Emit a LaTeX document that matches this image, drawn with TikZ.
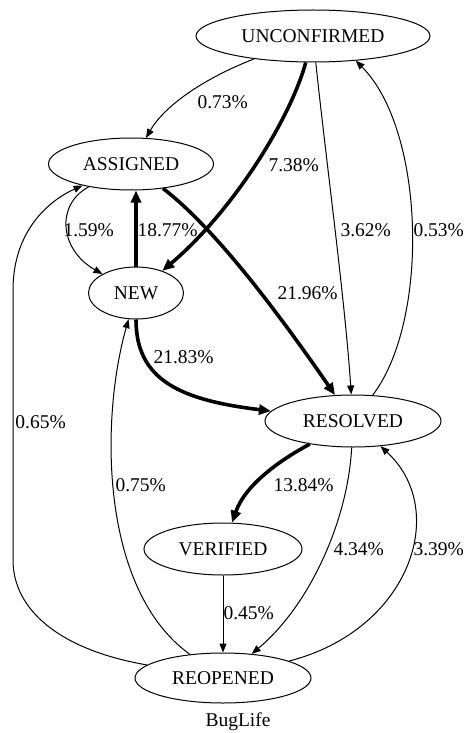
\documentclass[tikz,border=0pt]{standalone}
\usepackage{fontspec}
\setmainfont{Liberation Serif}
\usetikzlibrary{shapes.geometric, arrows.meta}

\begin{document}
\begin{tikzpicture}[x=1pt, y=-1pt, line width=1pt,
    >={Triangle[length=9pt, width=7pt]},
    statenode/.style={ellipse, draw, inner sep=0pt, minimum height=52pt,
      font=\fontsize{19.5}{22}\selectfont},
    edgelabel/.style={anchor=west, inner sep=0pt,
      font=\fontsize{19.5}{22}\selectfont},
    heavy/.style={line width=3.6pt, >={Triangle[length=12pt, width=10pt]}}]
    \useasboundingbox (0,0) rectangle (464,733);
    % states
    \node[statenode, minimum width=234pt] (unconfirmed) at (313,36) {UNCONFIRMED};
    \node[statenode, minimum width=165pt] (assigned) at (131,164) {ASSIGNED};
    \node[statenode, minimum width=95pt] (new) at (136,293) {NEW};
    \node[statenode, minimum width=176pt] (resolved) at (353,421) {RESOLVED};
    \node[statenode, minimum width=158pt] (verified) at (223,549) {VERIFIED};
    \node[statenode, minimum width=176pt, minimum height=50pt] (reopened) at (223,678) {REOPENED};
    \node[edgelabel, anchor=center] (title) at (238,722) {BugLife};
    % transitions
    \draw[->] (unconfirmed) .. controls (205,78) and (165,105) .. (assigned);
    \draw[heavy, ->] (unconfirmed) .. controls (290,120) and (232,212) .. (new);
    \draw[->] (unconfirmed) .. controls (326,160) and (345,300) .. (resolved);
    \draw[->] (resolved) .. controls (430,320) and (425,130) .. (unconfirmed.-30);
    \draw[->] (assigned) .. controls (55,205) and (60,250) .. (new);
    \draw[heavy, ->] (new.north) -- (new.north |- assigned.south);
    \draw[heavy, ->] (assigned) .. controls (220,232) and (290,330) .. (resolved);
    \draw[heavy, ->] (new) .. controls (136,380) and (180,400) .. (resolved);
    \draw[heavy, ->] (resolved) .. controls (280,460) and (245,485) .. (verified);
    \draw[->] (resolved) .. controls (348,520) and (310,605) .. (reopened);
    \draw[->] (reopened) .. controls (410,630) and (450,510) .. (resolved);
    \draw[->] (verified) -- (reopened);
    \draw[->] (reopened) .. controls (100,590) and (100,420) .. (new);
    \draw[->] (reopened) .. controls (60,650) and (13,610) .. (13,560)
      -- (13,290) .. controls (13,230) and (50,200) .. (assigned);
    % rates
    \node[edgelabel] (p073) at (197,102) {0.73\%};
    \node[edgelabel] (p738) at (268,165) {7.38\%};
    \node[edgelabel] (p362) at (340,230) {3.62\%};
    \node[edgelabel] (p053) at (413,230) {0.53\%};
    \node[edgelabel] (p159) at (63,230) {1.59\%};
    \node[edgelabel] (p1877) at (137,230) {18.77\%};
    \node[edgelabel] (p2196) at (277,293) {21.96\%};
    \node[edgelabel] (p2183) at (153,357) {21.83\%};
    \node[edgelabel] (p065) at (15,422) {0.65\%};
    \node[edgelabel] (p075) at (115,485) {0.75\%};
    \node[edgelabel] (p1384) at (273,485) {13.84\%};
    \node[edgelabel] (p434) at (333,549) {4.34\%};
    \node[edgelabel] (p339) at (413,549) {3.39\%};
    \node[edgelabel] (p045) at (223,613) {0.45\%};
  \end{tikzpicture}
\end{document}
